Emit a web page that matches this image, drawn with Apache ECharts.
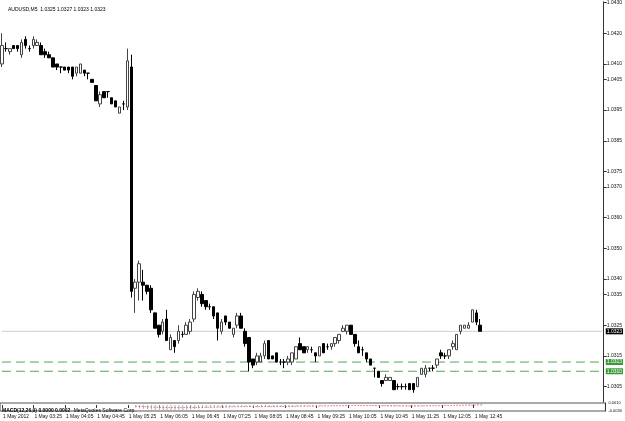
<!DOCTYPE html>
<html><head><meta charset="utf-8">
<script src="https://cdn.jsdelivr.net/npm/echarts@6/dist/echarts.min.js"></script>
<style>html,body{margin:0;padding:0;background:#fff}#c{width:625px;height:421px}</style>
</head><body><div id="c"></div><script>
// ---- data (AUDUSD M5, 1 May 2012, first bar 02:45) ----
const symbolTitle = 'AUDUSD,M5  1.0325 1.0327 1.0323 1.0323';
const startTime = '02:45';
const totalSlots = 154; // bars + empty right shift
const open = [1.0410,1.0415,1.0414,1.0416,1.0416,1.0413,1.0418,1.0415,1.0416,1.0416,
1.0416,1.0414,1.0413,1.0412,1.0410,1.0409,1.0409,1.0409,1.0409,1.0407,
1.0407,1.0408,1.0407,1.0405,1.0403,1.0397,1.0401,1.0401,1.0399,1.0398,
1.0394,1.0397,1.0396,1.0409,1.0337,1.0339,1.0339,1.0338,1.0337,1.0329,
1.0325,1.0323,1.0327,1.0317,1.0320,1.0320,1.0322,1.0322,1.0323,1.0327,
1.0334,1.0335,1.0333,1.0331,1.0331,1.0329,1.0323,1.0328,1.0326,1.0322,
1.0325,1.0328,1.0323,1.0321,1.0314,1.0313,1.0313,1.0315,1.0320,1.0315,
1.0316,1.0313,1.0313,1.0313,1.0313,1.0314,1.0319,1.0318,1.0317,1.0317,
1.0316,1.0315,1.0319,1.0318,1.0318,1.0319,1.0320,1.0323,1.0323,1.0325,
1.0322,1.0318,1.0317,1.0316,1.0314,1.0311,1.0310,1.0307,1.0307,1.0307,
1.0307,1.0305,1.0305,1.0305,1.0306,1.0306,1.0305,1.0309,1.0309,1.0311,
1.0311,1.0312,1.0316,1.0315,1.0315,1.0318,1.0317,1.0323,1.0324,1.0324,
1.0326,1.0329,1.0325];
const close = [1.0416,1.0415,1.0415,1.0415,1.0415,1.0417,1.0416,1.0415,1.0418,1.0417,
1.0413,1.0413,1.0412,1.0409,1.0409,1.0409,1.0408,1.0408,1.0406,1.0409,
1.0410,1.0407,1.0407,1.0404,1.0398,1.0400,1.0399,1.0401,1.0397,1.0396,
1.0396,1.0397,1.0411,1.0336,1.0339,1.0345,1.0338,1.0336,1.0330,1.0324,
1.0322,1.0326,1.0320,1.0321,1.0318,1.0323,1.0322,1.0325,1.0326,1.0335,
1.0336,1.0332,1.0331,1.0331,1.0328,1.0324,1.0326,1.0326,1.0324,1.0324,
1.0328,1.0324,1.0319,1.0313,1.0312,1.0315,1.0315,1.0319,1.0314,1.0314,
1.0313,1.0313,1.0313,1.0314,1.0316,1.0318,1.0317,1.0316,1.0318,1.0317,
1.0315,1.0318,1.0316,1.0318,1.0319,1.0321,1.0322,1.0324,1.0325,1.0322,
1.0319,1.0316,1.0317,1.0314,1.0312,1.0311,1.0308,1.0306,1.0308,1.0308,
1.0304,1.0305,1.0305,1.0305,1.0304,1.0304,1.0308,1.0311,1.0311,1.0311,
1.0311,1.0314,1.0315,1.0315,1.0317,1.0319,1.0322,1.0325,1.0325,1.0325,
1.0330,1.0326,1.0323];
const low = [1.0409,1.0414,1.0413,1.0415,1.0414,1.0412,1.0415,1.0414,1.0415,1.0416,
1.0413,1.0412,1.0412,1.0409,1.0408,1.0407,1.0408,1.0407,1.0405,1.0406,
1.0407,1.0406,1.0405,1.0404,1.0398,1.0396,1.0399,1.0399,1.0397,1.0396,
1.0394,1.0395,1.0395,1.0334,1.0329,1.0333,1.0333,1.0335,1.0329,1.0324,
1.0321,1.0322,1.0320,1.0317,1.0316,1.0319,1.0321,1.0322,1.0322,1.0326,
1.0333,1.0331,1.0330,1.0330,1.0327,1.0320,1.0322,1.0325,1.0324,1.0321,
1.0324,1.0324,1.0318,1.0310,1.0311,1.0312,1.0313,1.0314,1.0314,1.0314,
1.0313,1.0312,1.0311,1.0312,1.0312,1.0314,1.0317,1.0316,1.0316,1.0316,
1.0313,1.0315,1.0316,1.0317,1.0317,1.0318,1.0319,1.0323,1.0322,1.0322,
1.0318,1.0316,1.0315,1.0313,1.0312,1.0308,1.0308,1.0305,1.0307,1.0307,
1.0304,1.0304,1.0304,1.0304,1.0304,1.0303,1.0305,1.0309,1.0308,1.0310,
1.0310,1.0311,1.0314,1.0314,1.0314,1.0317,1.0317,1.0322,1.0324,1.0324,
1.0326,1.0325,1.0323];
const high = [1.0420,1.0417,1.0415,1.0416,1.0416,1.0418,1.0419,1.0416,1.0419,1.0418,
1.0417,1.0415,1.0414,1.0412,1.0410,1.0409,1.0409,1.0409,1.0409,1.0409,
1.0410,1.0408,1.0407,1.0405,1.0403,1.0401,1.0401,1.0401,1.0399,1.0398,
1.0396,1.0398,1.0415,1.0413,1.0340,1.0346,1.0343,1.0338,1.0338,1.0329,
1.0325,1.0327,1.0330,1.0322,1.0320,1.0325,1.0323,1.0326,1.0327,1.0336,
1.0337,1.0336,1.0333,1.0332,1.0331,1.0329,1.0327,1.0328,1.0326,1.0324,
1.0329,1.0329,1.0324,1.0321,1.0314,1.0316,1.0316,1.0320,1.0320,1.0315,
1.0316,1.0314,1.0314,1.0315,1.0316,1.0318,1.0321,1.0318,1.0318,1.0318,
1.0316,1.0318,1.0319,1.0319,1.0319,1.0321,1.0322,1.0325,1.0325,1.0325,
1.0322,1.0320,1.0318,1.0316,1.0314,1.0311,1.0310,1.0307,1.0309,1.0308,
1.0307,1.0306,1.0306,1.0306,1.0306,1.0306,1.0308,1.0311,1.0312,1.0311,
1.0312,1.0314,1.0317,1.0316,1.0317,1.0320,1.0322,1.0325,1.0325,1.0326,
1.0330,1.0330,1.0327];
const priceTicks = [1.0305,1.0315,1.0325,1.0335,1.0340,1.0350,1.0360,1.0370,1.0375,1.0385,1.0395,1.0405,1.0410,1.0420,1.0430];
const timeLabels = ['1 May 2012','1 May 03:25','1 May 04:05','1 May 04:45','1 May 05:25','1 May 06:05','1 May 06:45','1 May 07:25','1 May 08:05','1 May 08:45','1 May 09:25','1 May 10:05','1 May 10:45','1 May 11:25','1 May 12:05','1 May 12:45'];
const labelEvery = 8;
const bidPrice = 1.0323;
const levelPrices = [1.0313, 1.0310];
// MACD sub-window (starts at bar 34)
const macdStart = 34;
const macdHist = [-0.0012,-0.0016,-0.0019,-0.0021,-0.0023,-0.0025,-0.0026,-0.0026,-0.0027,-0.0027,
-0.0027,-0.0026,-0.0025,-0.0024,-0.0023,-0.0020,-0.0018,-0.0016,-0.0015,-0.0014,
-0.0013,-0.0013,-0.0012,-0.0011,-0.0011,-0.0010,-0.0009,-0.0009,-0.0009,-0.0010,
-0.0011,-0.0011,-0.0011,-0.0010,-0.0010,-0.0010,-0.0010,-0.0010,-0.0010,-0.0009,
-0.0009,-0.0008,-0.0007,-0.0007,-0.0006,-0.0006,-0.0006,-0.0005,-0.0005,-0.0004,
-0.0004,-0.0003,-0.0002,-0.0001,-0.0001,-0.0001,-0.0001,-0.0002,-0.0002,-0.0003,
-0.0003,-0.0004,-0.0005,-0.0006,-0.0006,-0.0006,-0.0007,-0.0007,-0.0007,-0.0007,
-0.0007,-0.0007,-0.0006,-0.0005,-0.0004,-0.0004,-0.0003,-0.0002,-0.0001,-0.0001,
0.0000,0.0001,0.0002,0.0003,0.0003,0.0004,0.0005,0.0005,0.0004];
const macdSignal = [-0.0006,-0.0007,-0.0008,-0.0009,-0.0010,-0.0011,-0.0012,-0.0012,-0.0013,-0.0013,
-0.0013,-0.0013,-0.0013,-0.0013,-0.0013,-0.0012,-0.0012,-0.0012,-0.0011,-0.0011,
-0.0011,-0.0010,-0.0010,-0.0010,-0.0009,-0.0009,-0.0009,-0.0008,-0.0008,-0.0008,
-0.0008,-0.0008,-0.0008,-0.0008,-0.0008,-0.0008,-0.0007,-0.0007,-0.0007,-0.0007,
-0.0007,-0.0007,-0.0006,-0.0006,-0.0006,-0.0006,-0.0005,-0.0005,-0.0005,-0.0005,
-0.0004,-0.0004,-0.0004,-0.0003,-0.0003,-0.0003,-0.0003,-0.0003,-0.0003,-0.0003,
-0.0003,-0.0003,-0.0003,-0.0004,-0.0004,-0.0004,-0.0004,-0.0004,-0.0005,-0.0005,
-0.0005,-0.0005,-0.0005,-0.0005,-0.0004,-0.0004,-0.0004,-0.0004,-0.0003,-0.0003,
-0.0003,-0.0002,-0.0002,-0.0002,-0.0001,-0.0001,-0.0001,0.0000,0.0000];
const macdRange = [-0.0030, 0.0010];

// ---- build ----
const cats = [];
{ let [h, m] = startTime.split(':').map(Number); let t = h * 60 + m;
  for (let i = 0; i < totalSlots; i++) { const tt = t + i * 5; cats.push('1 May ' + String(Math.floor(tt / 60) % 24).padStart(2, '0') + ':' + String(tt % 60).padStart(2, '0')); } }
const candles = open.map((o, i) => [o, close[i], low[i], high[i]]);
const histData = cats.map((c, i) => (i >= macdStart && i - macdStart < macdHist.length) ? macdHist[i - macdStart] : null);
const sigData = cats.map((c, i) => (i >= macdStart && i - macdStart < macdSignal.length) ? macdSignal[i - macdStart] : null);
const showIdx = (i) => i % labelEvery === 0 && i / labelEvery < timeLabels.length;
const FONT = 'Liberation Sans';
const levelSeries = (v, color, dash, bg) => ({
  type: 'line', xAxisIndex: 0, yAxisIndex: 0, data: cats.map(() => v), symbol: 'none', silent: true, z: 1,
  color: color, itemStyle: { color: color },
  lineStyle: { color: color, type: dash, width: 1, opacity: 1 },
  endLabel: { show: true, distance: 4, formatter: () => v.toFixed(4), backgroundColor: bg, color: '#fff', fontSize: 5, padding: [1, 1, 0, 1], fontFamily: FONT }
});
const chart = echarts.init(document.getElementById('c'), null, { renderer: 'canvas' });
chart.setOption({
  animation: false,
  backgroundColor: '#fff',
  textStyle: { fontFamily: FONT },
  title: { text: symbolTitle, left: 3, top: 2, textStyle: { fontSize: 5, fontWeight: 'normal', color: '#000', fontFamily: FONT } },
  graphic: [{ type: 'text', left: 2, top: 404.5, style: { text: '{b|MACD(12,26,9) 0.0000 0.0002} {n|MetaQuotes Software Corp.}', rich: { b: { fontSize: 5, fontWeight: 'bold', fill: '#000', fontFamily: FONT }, n: { fontSize: 5, fill: '#000', fontFamily: FONT } } } }],
  grid: [
    { left: 0, right: 19, top: 0, height: 402, show: false },
    { left: 0, right: 19, top: 403, height: 8, show: true, borderColor: '#555', borderWidth: 1, backgroundColor: '#fff' }
  ],
  xAxis: [
    { type: 'category', gridIndex: 0, data: cats, boundaryGap: true, show: false },
    { type: 'category', gridIndex: 1, data: cats, boundaryGap: true,
      axisLine: { show: false },
      axisTick: { show: true, alignWithLabel: true, interval: (i) => showIdx(i), length: 3, lineStyle: { color: '#333' } },
      axisLabel: { interval: (i) => showIdx(i), formatter: (v, i) => timeLabels[i / labelEvery] || '', fontSize: 5, align: 'left', margin: 3, color: '#111', padding: [0, 0, 0, 1], fontFamily: FONT },
      splitLine: { show: false } }
  ],
  yAxis: [
    { type: 'value', gridIndex: 0, position: 'right', min: 1.0300, max: 1.04302,
      axisLine: { show: true, lineStyle: { color: '#333', width: 1 } },
      axisTick: { show: true, length: 3, customValues: priceTicks, lineStyle: { color: '#333' } },
      axisLabel: { customValues: priceTicks, formatter: (v) => v.toFixed(4), fontSize: 5, margin: 3, color: '#111', fontFamily: FONT },
      splitLine: { show: false } },
    { type: 'value', gridIndex: 1, position: 'right', min: macdRange[0], max: macdRange[1],
      axisLine: { show: true, lineStyle: { color: '#333' } },
      axisTick: { show: false },
      axisLabel: { customValues: macdRange, formatter: (v) => v.toFixed(4), fontSize: 4, margin: 3, color: '#111', fontFamily: FONT },
      splitLine: { show: false } }
  ],
  series: [
    levelSeries(bidPrice, '#cccccc', 'solid', '#000'),
    levelSeries(levelPrices[0], '#4ea64e', [9, 5], '#3a9a3a'),
    levelSeries(levelPrices[1], '#4ea64e', [9, 5], '#3a9a3a'),
    { type: 'candlestick', xAxisIndex: 0, yAxisIndex: 0, data: candles, barWidth: 3, z: 3,
      itemStyle: { color: '#fff', color0: '#000', borderColor: '#444', borderColor0: '#000', borderColorDoji: '#000', borderWidth: 1 } },
    { type: 'bar', xAxisIndex: 1, yAxisIndex: 1, data: histData, barWidth: 1, itemStyle: { color: '#b0b0b0' } },
    { type: 'line', xAxisIndex: 1, yAxisIndex: 1, data: sigData, symbol: 'none', lineStyle: { color: '#e03030', width: 1, type: [1, 2] } }
  ]
});
</script></body></html>
